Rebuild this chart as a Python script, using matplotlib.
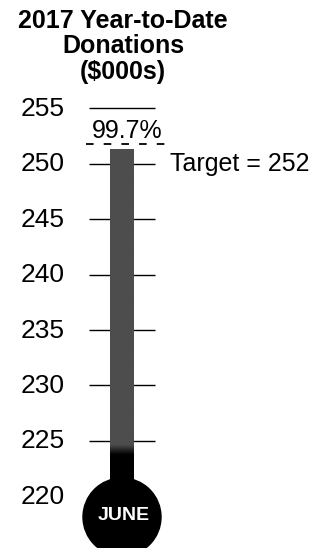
import numpy as np
import matplotlib
matplotlib.use("Agg")
import matplotlib.pyplot as plt
from matplotlib.patches import Ellipse
from matplotlib.transforms import ScaledTranslation

# ---- data ----
title_lines = ["2017 Year-to-Date", "Donations", "($000s)"]
tick_values = [220, 225, 230, 235, 240, 245, 250, 255]
tick_labels = ["220", "225", "230", "235", "240", "245", "250", "255"]
target = 252
pct_of_target = 99.7
current = target * pct_of_target / 100.0
month = "JUNE"

plt.rcParams['font.family'] = ['Liberation Sans', 'DejaVu Sans']

W, H = 315, 548
fig = plt.figure(figsize=(W / 100, H / 100), dpi=100)
ax = fig.add_axes([0, 0, 1, 1])
ax.axis('off')

# pixel scale: 255 at y=108.3 px, 11.08 px per unit
PXU = 11.08
Y255 = 108.3
ymin = 255 - (H - Y255) / PXU
ymax = 255 + Y255 / PXU
ax.set_xlim(0, W)
ax.set_ylim(ymin, ymax)

def off(dx_px, dy_px):
    return ax.transData + ScaledTranslation(dx_px / 100, dy_px / 100, fig.dpi_scale_trans)

# title
for i, line in enumerate(title_lines):
    fig.text(123 / W, 1 - (27.5 + i * 25.5) / H, line, ha='center', va='baseline',
             fontsize=18, fontweight='bold', color='black')

# tick lines and labels
cx = 122
ax.hlines(tick_values[1:], cx - 33, cx + 33, color='black', lw=1.0, zorder=1)
for v, lab in zip(tick_values, tick_labels):
    ax.text(64.5, v, lab, ha='right', va='baseline', fontsize=19,
            transform=off(0, -7.7), color='black')

# bulb
bulb_v = 255 - (517 - Y255) / PXU
r_px = 39
ax.add_patch(Ellipse((cx, bulb_v), 2 * r_px, 2 * r_px / PXU, color='black', zorder=3))

# stem with gradient
yy = np.linspace(current, bulb_v, 400)
shade = np.interp(yy, [223.7, 224.6], [0.0, 77 / 255])
img = np.repeat(shade[:, None], 2, axis=1)
ax.imshow(img, cmap='gray', vmin=0, vmax=1, extent=[cx - 12, cx + 12, bulb_v, current],
          aspect='auto', interpolation='bilinear', zorder=2, origin='upper')
ax.set_xlim(0, W)
ax.set_ylim(ymin, ymax)

# target dashed line and pct
ln, = ax.plot([86, 167], [target, target], color='black', lw=1.3, zorder=4,
              transform=off(0, -2))
ln.set_dashes((4.2, 5.6))
ax.text(127.5, target, f"{pct_of_target}%", ha='center', va='baseline', fontsize=18,
        transform=off(0, 3.5), color='black')

# target label
ax.text(170, 250, f"Target = {target}", ha='left', va='baseline', fontsize=18,
        transform=off(0, -7), color='black')

# month label
ax.text(cx + 1.5, bulb_v, month, ha='center', va='center', fontsize=14,
        fontweight='bold', color='white', zorder=5, transform=off(0, 2))

fig.savefig("out.png", dpi=100)
